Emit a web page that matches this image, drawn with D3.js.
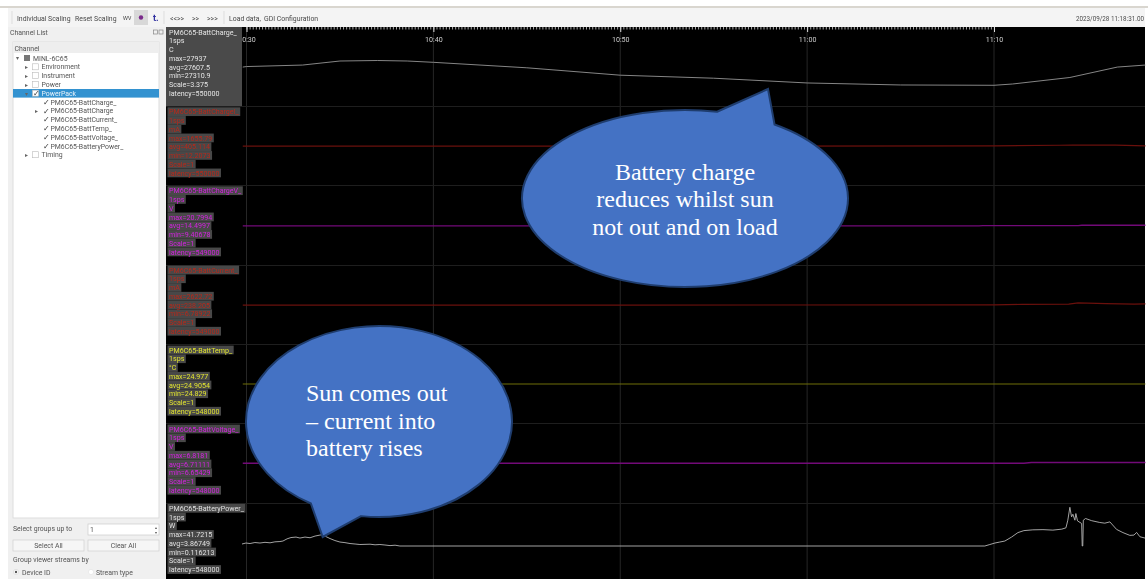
<!DOCTYPE html>
<html>
<head>
<meta charset="utf-8">
<title>PowerPack channels</title>
<script src="https://cdn.jsdelivr.net/npm/d3@7"></script>
<style>
    html, body { margin: 0; padding: 0; background: #fff; overflow: hidden; }
    text { font-family: Roboto, "Noto Sans", sans-serif; }
    .shot { filter: blur(0.45px); }
    .bubble text { font-family: "Liberation Serif", serif; font-size: 24px; fill: #fff; }
</style>
</head>
<body>
<svg id="chart" width="1148" height="579"></svg>
<script>
// channel read-outs, top to bottom
const channelNames = ["PM6C65-BattCharge_", "PM6C65-BattChargeI_", "PM6C65-BattChargeV_", "PM6C65-BattCurrent_", "PM6C65-BattTemp_", "PM6C65-BattVoltage_", "PM6C65-BatteryPower_"];
const channelUnits = ["C", "mA", "V", "mA", "°C", "V", "W"];
const channelMax = ["27937", "1655.79", "20.7994", "2622.72", "24.977", "6.8181", "41.7215"];
const channelAvg = ["27607.5", "405.114", "14.4997", "238.205", "24.9054", "6.71111", "3.86749"];
const channelMin = ["27310.9", "12.2073", "9.40678", "6.78922", "24.829", "6.65429", "0.116213"];
const channelScale = ["3.375", "1", "1", "1", "1", "1", "1"];
const channelLatency = ["550000", "550000", "549000", "549000", "548000", "548000", "548000"];

// series: minutes after 10:00, value in channel units
const chargeTimes = [29.8, 30, 33, 35, 37, 38.6, 40, 45, 50, 55, 60, 65, 70, 71, 74.06, 76.6, 78.1];
const chargeValues = [27771, 27784, 27822, 27924, 27937, 27924, 27891, 27753, 27566, 27490, 27370, 27319, 27311, 27344, 27508, 27771, 27822];

const chargeITimes = [29.8, 50, 70, 73.5, 74.2, 76.5, 78.1];
const chargeIValues = [405, 405, 700, 1400, 1655, 1500, 800];

const chargeVTimes = [29.8, 50, 69.2, 69.4, 74.5, 74.7, 78.1];
const chargeVValues = [14.4, 14.5, 14.5, 16, 16, 18.5, 18.5];

const currentTimes = [29.8, 50, 70, 71.5, 74, 74.5, 76, 77.5, 78.1];
const currentValues = [238, 238, 500, 1000, 1300, 2622, 1800, 1200, 1500];

const tempTimes = [29.8, 36, 41, 46, 51, 56, 61, 66, 71, 76, 78.1];
const tempValues = [24.91, 24.9, 24.91, 24.9, 24.91, 24.9, 24.905, 24.91, 24.9, 24.905, 24.9];

const voltageTimes = [29.8, 60, 71.6, 72, 78.1];
const voltageValues = [6.71, 6.71, 6.71, 6.78, 6.78];

const powerTimes = [29.76, 29.97, 30.19, 30.45, 30.72, 30.99, 31.26, 31.52, 31.79, 31.95, 32.17, 32.38, 32.65, 32.86, 33.13, 33.4, 33.67, 33.93, 34.09, 34.25, 34.47, 34.73, 35, 35.27, 35.54, 35.81, 36.07, 36.61, 36.88, 37.14, 37.41, 37.68, 37.95, 38.21, 69.51, 69.78, 70.05, 70.31, 70.58, 70.94, 71.28, 71.6, 72.08, 72.62, 73.15, 73.63, 73.85, 73.95, 74.06, 74.15, 74.22, 74.33, 74.38, 74.47, 74.69, 74.72, 74.75, 74.78, 74.9, 75.23, 75.66, 75.93, 76.2, 76.56, 76.9, 77.27, 77.49, 77.63, 77.81, 78.08];
const powerValues = [2.25, 3.32, 2.78, 3.85, 3.32, 4.06, 3.53, 4.6, 4.92, 5.45, 7.8, 9.2, 9.72, 8.65, 9.72, 8.97, 10.8, 11.85, 12.4, 10.25, 8.12, 5.98, 4.38, 3.74, 2.78, 2.25, 1.72, 2.04, 1.4, 1.72, 1.18, 0.54, 0.97, 0.116, 0.116, 1.72, 3.32, 4.38, 5.45, 9.72, 14.52, 16.65, 17.5, 17.72, 17.19, 18.25, 19.64, 27.86, 41.72, 31.38, 34.26, 27.86, 35, 27.1, 24.3, 0.116, 0.116, 27.86, 29.67, 27.3, 25.4, 24.66, 26.05, 17.94, 14.52, 11.53, 11.85, 14.73, 10.04, 8.65];

const seriesTimes = [chargeTimes, chargeITimes, chargeVTimes, currentTimes, tempTimes, voltageTimes, powerTimes];
const seriesValues = [chargeValues, chargeIValues, chargeVValues, currentValues, tempValues, voltageValues, powerValues];

// tree on the left
const treeLabels = ["MINL-6C65", "Environment", "Instrument", "Power", "PowerPack", "PM6C65-BattCharge_", "PM6C65-BattCharge", "PM6C65-BattCurrent_", "PM6C65-BattTemp_", "PM6C65-BattVoltage_", "PM6C65-BatteryPower_", "Timing"];
const treeDepth = [0, 1, 1, 1, 1, 2, 2, 2, 2, 2, 2, 1];
const treeChecked = [0, 0, 0, 0, 1, 1, 1, 1, 1, 1, 1, 0];
const treeArrow = ["▾", "▸", "▸", "▸", "▾", "", "▸", "", "", "", "", "▸"];

const toolbarLabels = ["Individual Scaling", "Reset Scaling", "<<>>", ">>", ">>>", "Load data,", "GDI Configuration"];
const timeStamp = "2023/09/28 11:18:31.00";

// look of each channel
const traceColors = ["#949494", "#6a100c", "#720a78", "#6a100c", "#6e6e08", "#720a78", "#b4b4b4"];
const traceWidths = [0.9, 1.2, 1.4, 1.2, 1.1, 1.4, 0.9];
const labelColors = ["#e6e6e6", "#b8281a", "#d422e0", "#b8281a", "#e2e430", "#d422e0", "#e0e0e0"];
const laneTop = [27, 106, 185, 265, 344, 423, 503];
const labelTop = [32, 111.7, 190.7, 270, 350, 429, 508.3];
const traceRange = [[85.3, 60.5], [146.6, 145], [226.5, 225], [305.3, 302.8], [384.6, 383.4], [464, 462], [546, 507.3]];

const plot = { left: 166, right: 1145, top: 27, bottom: 579 };

const base = new Date(2023, 8, 28, 10, 0, 0);
const toDate = m => new Date(base.getTime() + m * 60000);
const x = d3.scaleTime().domain([toDate(30), toDate(70)]).range([246.5, 994]);

const svg = d3.select("#chart");
const shot = svg.append("g").attr("class", "shot");

function drawFrame() {
    shot.append("rect").attr("x", 0).attr("y", 6).attr("width", 1148).attr("height", 2).attr("fill", "#d9d6cf");
    shot.append("rect").attr("x", 8).attr("y", 8).attr("width", 1137).attr("height", 19).attr("fill", "#f4f4f4");
    shot.append("rect").attr("x", 8).attr("y", 27).attr("width", 158).attr("height", 552).attr("fill", "#f0f0f0");
    shot.append("rect").attr("x", plot.left).attr("y", plot.top)
        .attr("width", plot.right - plot.left).attr("height", plot.bottom - plot.top).attr("fill", "#000");
}

function drawToolbar() {
    const bar = shot.append("g").style("font-size", "6.9px").attr("fill", "#4a4a4a");
    const xs = [17, 75, 170, 192, 207, 229, 264];
    bar.selectAll("text.tool").data(toolbarLabels).enter().append("text")
        .attr("class", "tool").attr("x", (d, i) => xs[i]).attr("y", 20.5).text(d => d);
    bar.selectAll("line").data([12, 164, 224]).enter().append("line")
        .attr("x1", d => d).attr("x2", d => d).attr("y1", 11).attr("y2", 24).attr("stroke", "#ddd");
    bar.append("rect").attr("x", 134).attr("y", 10).attr("width", 14).attr("height", 15).attr("fill", "#d8d8d8");
    bar.append("text").attr("x", 123).attr("y", 19.5).attr("fill", "#555").text("ᴡᴠ");
    bar.append("circle").attr("cx", 141).attr("cy", 17.5).attr("r", 2.2).attr("fill", "#7a2a8a");
    bar.append("text").attr("x", 153).attr("y", 21).attr("fill", "#3030a0").style("font-weight", "bold").style("font-size", "9px").text("t.");
    bar.append("text").attr("x", 1144).attr("y", 20.5).attr("text-anchor", "end").style("font-size", "6.3px").text(timeStamp);
}

function drawPanel() {
    const panel = shot.append("g").style("font-size", "6.9px").attr("fill", "#555");
    panel.append("text").attr("x", 10).attr("y", 35).text("Channel List");
    panel.selectAll("rect.dock").data([153.5, 159]).enter().append("rect").attr("class", "dock")
        .attr("x", d => d).attr("y", 30).attr("width", 4).attr("height", 4)
        .attr("fill", "none").attr("stroke", "#888").attr("stroke-width", 0.7);

    panel.append("rect").attr("x", 13).attr("y", 42).attr("width", 146).attr("height", 476)
        .attr("fill", "#fff").attr("stroke", "#ddd");
    panel.append("rect").attr("x", 13).attr("y", 42).attr("width", 146).attr("height", 11).attr("fill", "#eeeeee");
    panel.append("text").attr("x", 14.5).attr("y", 51).text("Channel");

    const rowY = d3.scaleLinear().domain([0, 11]).range([58, 154.7]);
    const textX = [33, 41.5, 50.5];
    panel.append("rect").attr("x", 13).attr("y", 89).attr("width", 146).attr("height", 8.6).attr("fill", "#3392d0");

    const rows = panel.selectAll("g.row").data(treeLabels).enter().append("g")
        .attr("class", "row").attr("transform", (d, i) => `translate(0,${rowY(i)})`);
    rows.append("text").attr("x", (d, i) => textX[treeDepth[i]]).attr("y", 2.6)
        .attr("fill", d => d === "PowerPack" ? "#e8f2fa" : "#555").text(d => d);
    rows.append("text").attr("x", (d, i) => treeDepth[i] === 2 ? 34.5 : (treeDepth[i] === 1 ? 25 : 16))
        .attr("y", 2.4).style("font-size", "6px").attr("fill", "#666").text((d, i) => treeArrow[i]);
    rows.filter((d, i) => treeDepth[i] === 0).append("rect")
        .attr("x", 24).attr("y", -3).attr("width", 6).attr("height", 6).attr("fill", "#777");
    rows.filter((d, i) => treeDepth[i] === 1).append("rect")
        .attr("x", 32.5).attr("y", -3).attr("width", 6).attr("height", 6)
        .attr("fill", "#fff").attr("stroke", "#bbb").attr("stroke-width", 0.6);
    rows.filter(d => treeChecked[treeLabels.indexOf(d)] === 1).append("text")
        .attr("x", d => treeDepth[treeLabels.indexOf(d)] === 2 ? 42.5 : 33)
        .attr("y", 2.8).style("font-size", "7.5px").attr("fill", "#333").text("✓");

    panel.append("text").attr("x", 13).attr("y", 531).text("Select groups up to");
    panel.append("rect").attr("x", 88).attr("y", 524).attr("width", 71).attr("height", 11)
        .attr("fill", "#fff").attr("stroke", "#ccc").attr("stroke-width", 0.7);
    panel.append("text").attr("x", 90).attr("y", 531.5).text("1");
    panel.append("text").attr("x", 155).attr("y", 529).style("font-size", "4px").text("▴");
    panel.append("text").attr("x", 155).attr("y", 534).style("font-size", "4px").text("▾");

    const buttons = [["Select All", 13, 71], ["Clear All", 88, 71]];
    buttons.forEach(b => {
        panel.append("rect").attr("x", b[1]).attr("y", 540).attr("width", b[2]).attr("height", 11)
            .attr("fill", "#f6f6f6").attr("stroke", "#d0d0d0").attr("stroke-width", 0.7);
        panel.append("text").attr("x", b[1] + b[2] / 2).attr("y", 548).attr("text-anchor", "middle").text(b[0]);
    });
    panel.append("text").attr("x", 13).attr("y", 561.5).text("Group viewer streams by");
    panel.append("circle").attr("cx", 16).attr("cy", 572).attr("r", 2.6).attr("fill", "#fff").attr("stroke", "#ccc").attr("stroke-width", 0.5);
    panel.append("circle").attr("cx", 16).attr("cy", 572).attr("r", 1.2).attr("fill", "#555");
    panel.append("text").attr("x", 22).attr("y", 574.5).text("Device ID");
    panel.append("circle").attr("cx", 91).attr("cy", 572).attr("r", 2.6).attr("fill", "#fff").attr("stroke", "#ddd").attr("stroke-width", 0.5);
    panel.append("text").attr("x", 96).attr("y", 574.5).text("Stream type");
}

function drawAxis() {
    const axisG = shot.append("g");
    const major = x.ticks(d3.timeMinute.every(10));

    // faint grid first
    axisG.selectAll("line.grid").data(major).enter().append("line").attr("class", "grid")
        .attr("x1", d => x(d)).attr("x2", d => x(d)).attr("y1", plot.top).attr("y2", plot.bottom)
        .attr("stroke", "#262626");
    axisG.selectAll("line.lane").data(laneTop.slice(1)).enter().append("line").attr("class", "lane")
        .attr("x1", plot.left).attr("x2", plot.right).attr("y1", d => d + 0.5).attr("y2", d => d + 0.5)
        .attr("stroke", "#1e1e1e");

    // ruler along the top
    const ruler = d3.axisBottom(x).ticks(d3.timeSecond.every(10)).tickSize(2.5).tickFormat("");
    axisG.append("g").attr("transform", `translate(0,${plot.top})`).call(ruler)
        .call(g => g.select(".domain").remove())
        .call(g => g.selectAll("line").attr("stroke", "#bdbdbd").attr("stroke-width", 0.9));
    const labels = d3.axisBottom(x).tickValues(major).tickSize(5).tickPadding(5).tickFormat(d3.timeFormat("%H:%M"));
    axisG.append("g").attr("transform", `translate(0,${plot.top})`).call(labels)
        .call(g => g.select(".domain").remove())
        .call(g => g.selectAll("line").attr("stroke", "#ddd"))
        .call(g => g.selectAll("text").attr("fill", "#cfcfcf").style("font-size", "7.1px"));
}

function drawTraces() {
    const traces = shot.append("g").attr("fill", "none");
    channelNames.forEach((name, i) => {
        const y = d3.scaleLinear()
            .domain([+channelMin[i], +channelMax[i]])
            .range(traceRange[i]);
        const line = d3.line().x(d => x(toDate(d[0]))).y(d => y(d[1]));
        traces.append("path")
            .datum(d3.zip(seriesTimes[i], seriesValues[i]))
            .attr("d", line)
            .attr("stroke", traceColors[i])
            .attr("stroke-width", traceWidths[i]);
    });
}

function drawLabels() {
    const pitch = 8.75;
    shot.append("rect").attr("x", 166).attr("y", 27).attr("width", 76).attr("height", 79).attr("fill", "#4a4a4a");
    channelNames.forEach((name, i) => {
        const lines = [name, "1sps", channelUnits[i], `max=${channelMax[i]}`, `avg=${channelAvg[i]}`,
            `min=${channelMin[i]}`, `Scale=${channelScale[i]}`, `latency=${channelLatency[i]}`];
        const g = shot.append("g").style("font-size", "7.1px");
        const texts = g.selectAll("text").data(lines).enter().append("text")
            .attr("x", 169).attr("y", (d, k) => labelTop[i] + 2.6 + k * pitch)
            .attr("fill", labelColors[i]).text(d => d);
        // grey plate behind every line, except the first channel which has one block
        if (i > 0) {
            texts.each(function (d, k) {
                const w = this.getComputedTextLength();
                g.insert("rect", "text").attr("x", 167.5).attr("y", labelTop[i] - 4.4 + k * pitch)
                    .attr("width", w + 3).attr("height", pitch).attr("fill", "#484848");
            });
        }
    });
}

function drawBubble(cx, cy, rx, ry, start, tip, end, lines, anchor, textX, firstY, pitch) {
    const g = svg.append("g").attr("class", "bubble");
    // tail ends pulled onto the ellipse
    const onEllipse = p => {
        const a = Math.atan2((p[1] - cy) / ry, (p[0] - cx) / rx);
        return [cx + rx * Math.cos(a), cy + ry * Math.sin(a)];
    };
    const s = onEllipse(start), e = onEllipse(end);
    g.append("path")
        .attr("d", `M${s}L${tip}L${e}A${rx},${ry} 0 1 1 ${s}Z`)
        .attr("fill", "#4472c4").attr("stroke", "#1f3d6e").attr("stroke-width", 2).attr("stroke-linejoin", "miter");
    g.selectAll("text").data(lines).enter().append("text")
        .attr("x", textX).attr("y", (d, i) => firstY + i * pitch)
        .attr("text-anchor", anchor).text(d => d);
}

drawFrame();
drawToolbar();
drawPanel();
drawAxis();
drawTraces();
drawLabels();
drawBubble(685, 198.5, 163, 88.5, [716.7, 112.7], [768, 89], [774, 125],
    ["Battery charge", "reduces whilst sun", "not out and on load"], "middle", 685, 180, 27.3);
drawBubble(379, 421.5, 133, 95.5, [361.7, 512.7], [322.7, 537], [313, 501],
    ["Sun comes out", "– current into", "battery rises"], "start", 306, 401, 27.5);
</script>
</body>
</html>
